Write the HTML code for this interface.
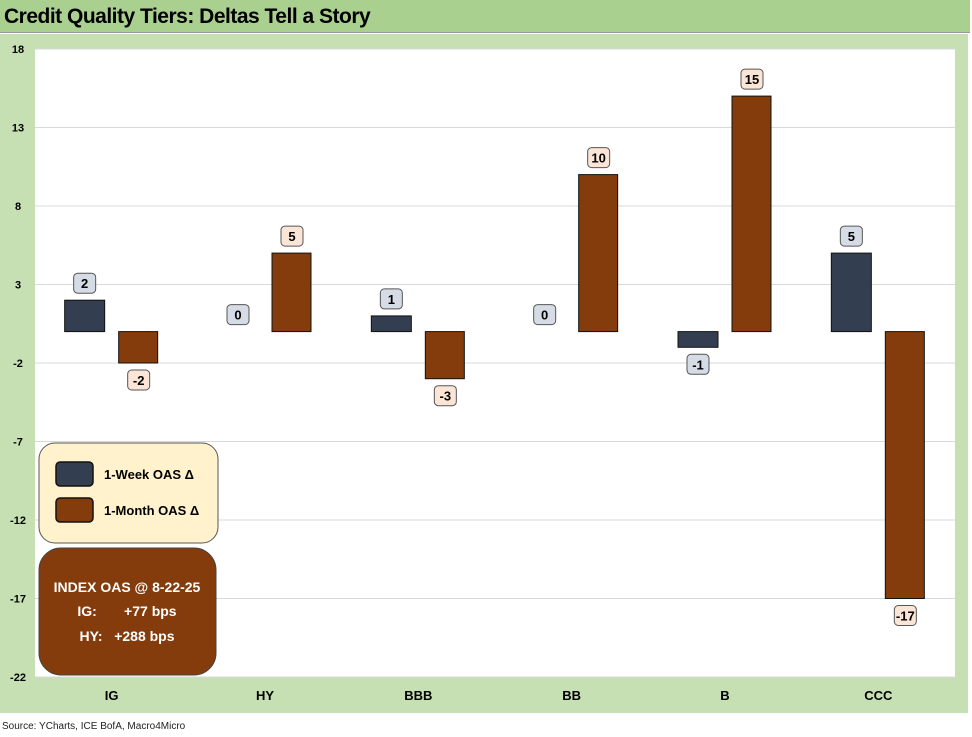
<!DOCTYPE html>
<html><head><meta charset="utf-8"><style>
body{margin:0;width:972px;height:737px;background:#fff;font-family:"Liberation Sans",Calibri,sans-serif;overflow:hidden;position:relative}
#title{position:absolute;left:0;top:0;width:970px;height:33px;background:#a9d08e;border-bottom:1px solid #999;font-weight:bold;font-size:21px;line-height:33px;padding-left:4px;box-sizing:border-box;letter-spacing:-0.5px}
#body{position:absolute;left:0;top:34px;width:968px;height:679px;background:#c6e0b4}
#src{position:absolute;left:2px;top:721px;font-size:10px;color:#222}
</style></head><body>
<div id="title">Credit Quality Tiers: Deltas Tell a Story</div>
<div id="body"></div>
<svg id="chart" width="972" height="737" style="position:absolute;left:0;top:0"></svg>
<div id="src">Source: YCharts, ICE BofA, Macro4Micro</div>
<script>
const categories=["IG","HY","BBB","BB","B","CCC"];
const weekValues=[2,0,1,0,-1,5];
const monthValues=[-2,5,-3,10,15,-17];
const yTicks=[18,13,8,3,-2,-7,-12,-17,-22];
const NS="http://www.w3.org/2000/svg";
const svg=document.getElementById('chart');
const L=35,R=955,T=49,B=677,yMin=-22,yMax=18;
const y=v=>T+(yMax-v)*(B-T)/(yMax-yMin);
const gw=(R-L)/categories.length;
const cx=i=>L+gw*(i+0.5);
function mk(tag,a){const e=document.createElementNS(NS,tag);for(const k in a)e.setAttribute(k,a[k]);svg.appendChild(e);return e;}
const plot=mk('rect',{x:L,y:T,width:R-L,height:B-T,fill:'#fff'});


yTicks.forEach(t=>{
  const g=mk('line',{x1:L,x2:R,y1:y(t),y2:y(t),stroke:'#d9d9d9','stroke-width':1});
  
  
  const tx=mk('text',{x:18,y:y(t)+4,'text-anchor':'middle','font-size':11,'font-weight':'bold'});
  tx.textContent=t;
  
  
});
function label(xc,v,fill){
  const yy=v>=0?y(v)-17:y(v)+17;
  const r=mk('rect',{x:xc-11,y:yy-10,width:22,height:20,rx:4,fill:fill,stroke:'#555','stroke-width':1});
  
  
  const t=mk('text',{x:xc,y:yy+5,'text-anchor':'middle','font-size':13,'font-weight':'bold'});
  t.textContent=v;
  
  
}
categories.forEach((c,i)=>{
  const x0=cx(i);
  const wv=weekValues[i],mv=monthValues[i];
  const b1=mk('rect',{x:x0-47,y:Math.min(y(wv),y(0)),width:40,height:Math.abs(y(wv)-y(0)),fill:'#333f50',stroke:'#111','stroke-width':1});
  
  
  const b2=mk('rect',{x:x0+7,y:Math.min(y(mv),y(0)),width:39,height:Math.abs(y(mv)-y(0)),fill:'#843c0c',stroke:'#111','stroke-width':1});
  
  
  label(x0-27,wv,'#d6dce5');
  label(x0+27,mv,'#fbe5d6');
  const t=mk('text',{x:x0,y:700,'text-anchor':'middle','font-size':13,'font-weight':'bold'});
  t.textContent=c;
  
  
});
// legend
const lg=mk('rect',{x:39,y:443,width:179,height:100,rx:16,fill:'#fff2cc',stroke:'#555','stroke-width':1});


[['1-Week OAS Δ','#333f50',474],['1-Month OAS Δ','#843c0c',510]].forEach(([n,c,yy])=>{
  const s=mk('rect',{x:56,y:yy-12,width:37,height:24,rx:4,fill:c,stroke:'#111','stroke-width':1.5});
  
  
  const t=mk('text',{x:104,y:yy+5,'font-size':13,'font-weight':'bold'});
  t.textContent=n;
  
  
});
const ib=mk('rect',{x:39,y:548,width:177,height:127,rx:22,fill:'#843c0c',stroke:'#444','stroke-width':1});


[['INDEX OAS @ 8-22-25',592],['IG:       +77 bps',616],['HY:   +288 bps',641]].forEach(([s,yy])=>{
  const t=mk('text',{x:127,y:yy,'text-anchor':'middle','font-size':14,'font-weight':'bold',fill:'#fff','xml:space':'preserve'});
  t.style.whiteSpace='pre';
  t.textContent=s;
  
  
});
</script>
</body></html>
